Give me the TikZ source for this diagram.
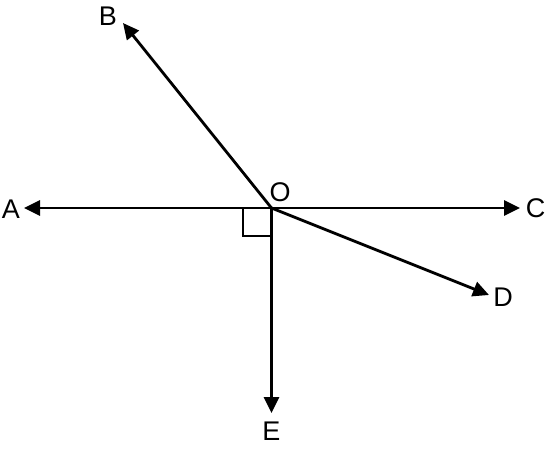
\documentclass[tikz,border=0pt]{standalone}
\usepackage{fontspec}
\setmainfont{Liberation Sans}
\usetikzlibrary{arrows.meta}
\begin{document}
\begin{tikzpicture}[x=1pt,y=-1pt,
  ray/.style={line width=2.8pt,-{Triangle[length=16pt,width=15pt]}},
  lbl/.style={font=\fontsize{27}{32}\selectfont,inner sep=0pt},
  rightmark/.style={line width=2.8pt}]
\useasboundingbox (0,0) rectangle (555,448);
\coordinate (O) at (271.5,208);
\coordinate (tA) at (24,208);
\coordinate (tB) at (123,23);
\coordinate (tC) at (520,208);
\coordinate (tD) at (489,295);
\coordinate (tE) at (271.5,413);
\coordinate (q1) at (243,208);
\coordinate (q2) at (243,236);
\coordinate (q3) at (271.5,236);
\node[lbl] (A) at (11,209) {A};
\node[lbl] (B) at (108,16) {B};
\node[lbl] (C) at (535.5,208) {C};
\node[lbl] (D) at (503,297) {D};
\node[lbl] (E) at (271.5,431) {E};
\node[lbl] (Olab) at (280,192) {O};
\draw[ray] (O) -- (tA);
\draw[ray] (O) -- (tB);
\draw[ray] (O) -- (tC);
\draw[ray] (O) -- (tD);
\draw[ray] (O) -- (tE);
\draw[rightmark] (q1) -- (q2) -- (q3);
\end{tikzpicture}
\end{document}
